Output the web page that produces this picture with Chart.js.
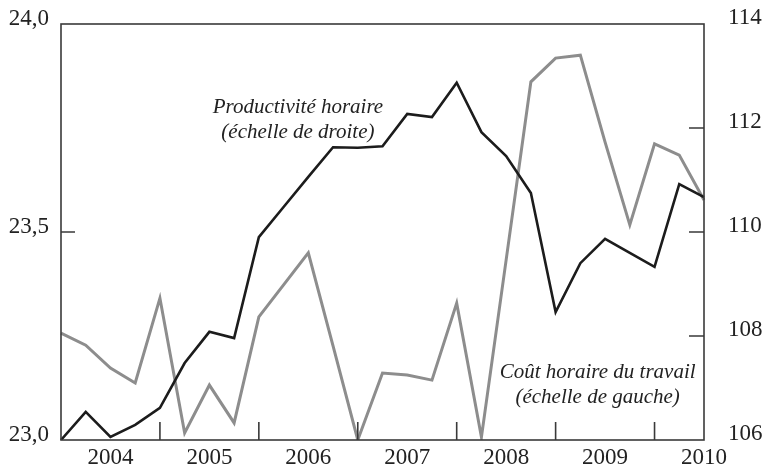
<!DOCTYPE html>
<html>
<head>
<meta charset="utf-8">
<script src="https://cdn.jsdelivr.net/npm/chart.js@4/dist/chart.umd.min.js"></script>
<style>
  body { margin: 0; background: #fff; }
  canvas { display: block; }
</style>
</head>
<body>
<canvas id="myChart" width="767" height="474"></canvas>
<script>
const quarters = [
    '2004T1', '2004T2', '2004T3', '2004T4',
    '2005T1', '2005T2', '2005T3', '2005T4',
    '2006T1', '2006T2', '2006T3', '2006T4',
    '2007T1', '2007T2', '2007T3', '2007T4',
    '2008T1', '2008T2', '2008T3', '2008T4',
    '2009T1', '2009T2', '2009T3', '2009T4',
    '2010T1', '2010T2', '2010T3',
]
// Coût horaire du travail (échelle de gauche)
const coutHoraire = [
    23.257, 23.228, 23.173, 23.137, 23.341, 23.017, 23.132, 23.041,
    23.296, 23.373, 23.45, 23.226, 23.0, 23.161, 23.156, 23.144,
    23.329, 23.007, 23.433, 23.861, 23.918, 23.925, 23.716, 23.517,
    23.712, 23.685, 23.577,
]
// Productivité horaire (échelle de droite)
const productivite = [
    106.0, 106.54, 106.06, 106.29, 106.62, 107.48, 108.08, 107.96,
    109.9, 110.48, 111.06, 111.63, 111.62, 111.65, 112.27, 112.21,
    112.87, 111.92, 111.46, 110.75, 108.46, 109.4, 109.87, 109.6,
    109.33, 110.92, 110.67,
]
const leftTicks = [23.0, 23.5, 24.0]
const rightTicks = [106, 108, 110, 112, 114]

const FONT = '"Liberation Serif", "DejaVu Serif", serif'
const INK = '#222'

// inward tick marks, frame and the two italic series notes
const framePlugin = {
    id: 'frame',
    afterDraw(chart) {
        const ctx = chart.ctx
        const a = chart.chartArea
        const x = chart.scales.x
        const yl = chart.scales.y
        const yr = chart.scales.y2
        ctx.save()
        ctx.strokeStyle = '#3a3a3a'
        ctx.lineWidth = 1.6
        ctx.strokeRect(a.left, a.top, a.right - a.left, a.bottom - a.top)
        ctx.beginPath()
        quarters.forEach((q, i) => {
            if (i > 0 && q.endsWith('T1')) {
                const px = x.getPixelForValue(i)
                ctx.moveTo(px, a.bottom)
                ctx.lineTo(px, a.bottom - 18)
            }
        })
        leftTicks.slice(1, -1).forEach(v => {
            const py = yl.getPixelForValue(v)
            ctx.moveTo(a.left, py)
            ctx.lineTo(a.left + 14, py)
        })
        rightTicks.slice(1, -1).forEach(v => {
            const py = yr.getPixelForValue(v)
            ctx.moveTo(a.right, py)
            ctx.lineTo(a.right - 15, py)
        })
        ctx.stroke()

        ctx.fillStyle = INK
        ctx.font = 'italic 21px ' + FONT
        ctx.textAlign = 'center'
        ctx.textBaseline = 'middle'
        const px1 = x.getPixelForValue(9.58)
        ctx.fillText('Productivité horaire', px1, yr.getPixelForValue(112.4))
        ctx.fillText('(échelle de droite)', px1, yr.getPixelForValue(111.92))
        const px2 = x.getPixelForValue(21.7)
        ctx.fillText('Coût horaire du travail', px2, yl.getPixelForValue(23.163))
        ctx.fillText('(échelle de gauche)', px2, yl.getPixelForValue(23.103))
        ctx.restore()
    },
}

function fixWidth(w) {
    return s => {
        s.width = w
        s.paddingTop = 0
        s.paddingBottom = 0
    }
}

function render_chart() {
    const data = {
        labels: quarters,
        datasets: [
            {
                label: 'Productivité horaire',
                data: productivite,
                yAxisID: 'y2',
                borderColor: '#1c1c1c',
                borderWidth: 2.6,
                pointRadius: 0,
                tension: 0,
            },
            {
                label: 'Coût horaire du travail',
                data: coutHoraire,
                yAxisID: 'y',
                borderColor: '#8d8d8d',
                borderWidth: 3,
                pointRadius: 0,
                tension: 0,
            },
        ],
    }
    const tickFont = { family: FONT, size: 23 }
    const config = {
        type: 'line',
        data: data,
        options: {
            responsive: false,
            animation: false,
            devicePixelRatio: 1,
            layout: { padding: { top: 24, left: 0, right: 0, bottom: 0 } },
            plugins: { legend: { display: false }, tooltip: { enabled: false } },
            scales: {
                x: {
                    grid: { display: false, drawTicks: false },
                    border: { display: false },
                    ticks: {
                        autoSkip: false,
                        maxRotation: 0,
                        padding: 4,
                        color: INK,
                        font: tickFont,
                        callback: (v, i) => quarters[i].endsWith('T3') ? quarters[i].slice(0, 4) : '',
                    },
                    afterFit: s => {
                        s.height = 34
                        s.paddingLeft = 0
                        s.paddingRight = 0
                    },
                },
                y: {
                    position: 'left',
                    min: 23,
                    max: 24,
                    grid: { display: false, drawTicks: false },
                    border: { display: false },
                    afterBuildTicks: s => { s.ticks = leftTicks.map(v => ({ value: v })) },
                    ticks: {
                        padding: 12,
                        labelOffset: -5,
                        color: INK,
                        font: tickFont,
                        callback: v => v.toFixed(1).replace('.', ','),
                    },
                    afterFit: fixWidth(61),
                },
                y2: {
                    position: 'right',
                    min: 106,
                    max: 114,
                    grid: { display: false, drawTicks: false },
                    border: { display: false },
                    afterBuildTicks: s => { s.ticks = rightTicks.map(v => ({ value: v })) },
                    ticks: {
                        padding: 24,
                        labelOffset: -6,
                        color: INK,
                        font: tickFont,
                    },
                    afterFit: fixWidth(63),
                },
            },
        },
        plugins: [framePlugin],
    }
    const myChart = new Chart(document.getElementById('myChart'), config)
}
document.addEventListener('DOMContentLoaded', render_chart)
</script>
</body>
</html>
